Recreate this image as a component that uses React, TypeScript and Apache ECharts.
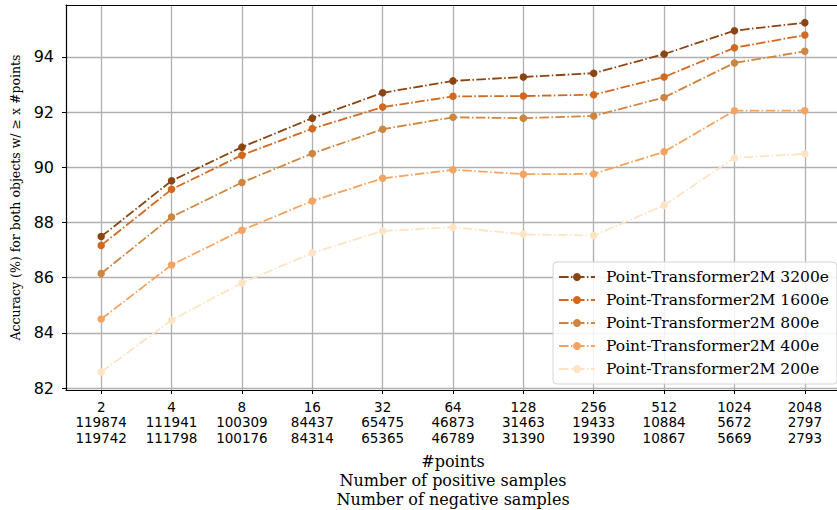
import React, { useEffect, useRef } from "react";
import * as echarts from "echarts";

const numPoints = ["2", "4", "8", "16", "32", "64", "128", "256", "512", "1024", "2048"];
const positiveSamples = ["119874", "111941", "100309", "84437", "65475", "46873", "31463", "19433", "10884", "5672", "2797"];
const negativeSamples = ["119742", "111798", "100176", "84314", "65365", "46789", "31390", "19390", "10867", "5669", "2793"];

const yTicks = [82, 84, 86, 88, 90, 92, 94];

const seriesNames = [
  "Point-Transformer2M 3200e",
  "Point-Transformer2M 1600e",
  "Point-Transformer2M 800e",
  "Point-Transformer2M 400e",
  "Point-Transformer2M 200e",
];
const acc3200 = [87.49, 89.51, 90.73, 91.78, 92.7, 93.13, 93.27, 93.41, 94.1, 94.95, 95.24];
const acc1600 = [87.17, 89.2, 90.44, 91.4, 92.18, 92.57, 92.58, 92.63, 93.27, 94.33, 94.79];
const acc800 = [86.15, 88.2, 89.45, 90.5, 91.38, 91.81, 91.78, 91.86, 92.53, 93.78, 94.2];
const acc400 = [84.5, 86.46, 87.72, 88.78, 89.6, 89.91, 89.75, 89.76, 90.56, 92.05, 92.05];
const acc200 = [82.58, 84.46, 85.81, 86.9, 87.69, 87.83, 87.57, 87.53, 88.62, 90.34, 90.49];
const colors = ["#8B4513", "#D2691E", "#CD853F", "#F4A460", "#FFE4C4"];

export default function App() {
  const ref = useRef<HTMLDivElement>(null);
  useEffect(() => {
    if (!ref.current) return;
    const chart = echarts.init(ref.current, null, { renderer: "svg" });
    const data = [acc3200, acc1600, acc800, acc400, acc200];
    const dash = [9.6, 2.4, 1.5, 2.4];
    const sans = "DejaVu Sans";
    const serif = "DejaVu Serif";
    chart.setOption({
      animation: false,
      backgroundColor: "#fff",
      grid: { left: 66, top: 5, width: 774, height: 385, outerBoundsMode: "none", containLabel: false },
      legend: {
        left: 553,
        top: 262,
        orient: "vertical",
        itemWidth: 36,
        itemHeight: 10,
        itemGap: 7,
        padding: [7, 8, 7, 5],
        backgroundColor: "rgba(255,255,255,0.85)",
        borderColor: "#d4d4d4",
        borderWidth: 1,
        borderRadius: 4,
        textStyle: { fontFamily: serif, fontSize: 15.5, color: "#000", padding: [0, 0, 0, 6] },
        data: seriesNames,
      },
      xAxis: [
        {
          type: "category",
          data: numPoints,
          boundaryGap: true,
          axisLine: { show: true, onZero: false, lineStyle: { color: "#000", width: 1.2 } },
          axisTick: { show: true, alignWithLabel: true, length: 4, lineStyle: { color: "#000" } },
          splitLine: { show: true, alignWithLabel: true, lineStyle: { color: "#b0b0b0", width: 1.3 } },
          axisLabel: {
            margin: 9,
            fontFamily: sans,
            fontSize: 13.5,
            lineHeight: 15.5,
            color: "#000",
            interval: 0,
            formatter: (v: string, i: number) => `${v}\n${positiveSamples[i]}\n${negativeSamples[i]}`,
          },
          name: "#points\nNumber of positive samples\nNumber of negative samples",
          nameLocation: "middle",
          nameGap: 62,
          nameTextStyle: { fontFamily: serif, fontSize: 16, lineHeight: 19, color: "#000", align: "center" },
        },
        {
          type: "category",
          position: "top",
          data: numPoints,
          axisLine: { show: true, lineStyle: { color: "#000", width: 1.2 } },
          axisTick: { show: false },
          axisLabel: { show: false },
          splitLine: { show: false },
        },
      ],
      yAxis: {
        type: "value",
        min: 81.93,
        max: 95.88,
        axisLine: { show: true, lineStyle: { color: "#000", width: 1.2 } },
        axisTick: { show: true, length: 4, customValues: yTicks, lineStyle: { color: "#000" } },
        axisLabel: {
          customValues: yTicks,
          margin: 12,
          fontFamily: sans,
          fontSize: 16,
          color: "#000",
        },
        splitLine: { show: true, lineStyle: { color: "#b0b0b0", width: 1.3 } },
        name: "Accuracy (%) for both objects w/ \u2265 x #points",
        nameLocation: "middle",
        nameGap: 44,
        nameTextStyle: { fontFamily: serif, fontSize: 12.5, color: "#000" },
      },
      series: seriesNames.map((name, k) => ({
        name,
        type: "line",
        data: data[k],
        symbol: "circle",
        symbolSize: 7.5,
        itemStyle: { color: colors[k] },
        lineStyle: { color: colors[k], width: 1.8, type: dash },
        z: 10 - k,
      })),
    });
    return () => chart.dispose();
  }, []);
  return <div ref={ref} style={{ width: 837, height: 510, position: "absolute", left: 0, top: 0 }} />;
}
